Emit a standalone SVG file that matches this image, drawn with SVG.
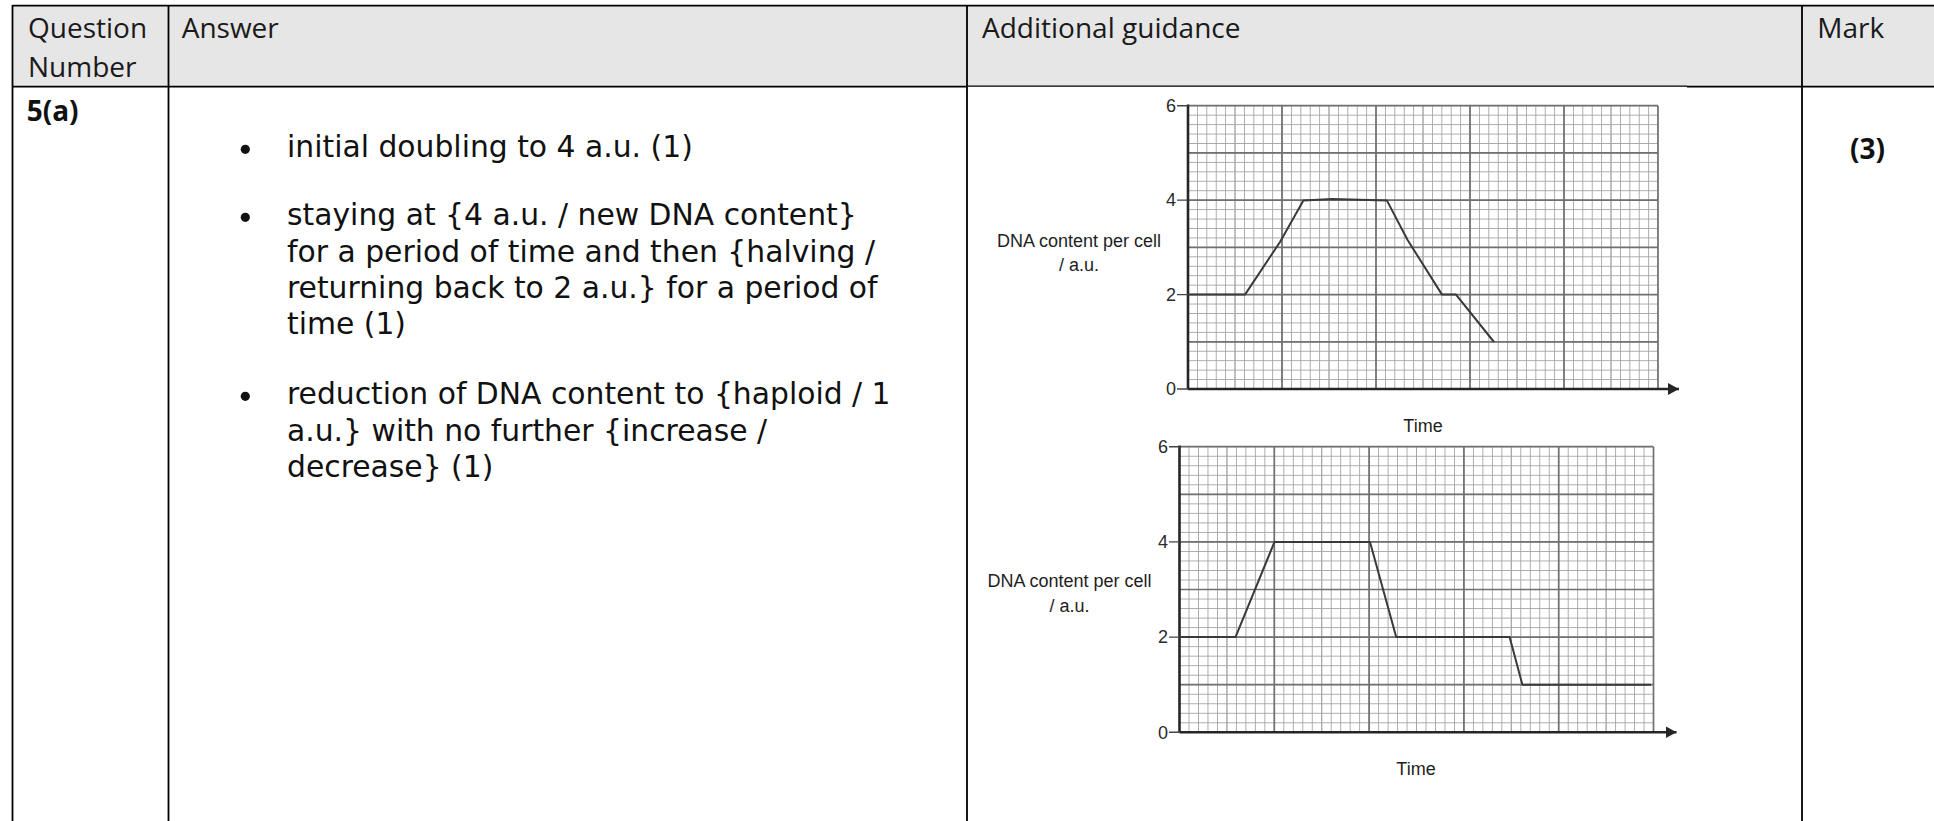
<svg xmlns="http://www.w3.org/2000/svg" width="1934" height="821" viewBox="0 0 1934 821">
<style>
.hdr{font-family:"Open Sans","Liberation Sans",sans-serif;font-size:28px;fill:#1a1a1a}
.bold{font-family:"Open Sans","Liberation Sans",sans-serif;font-size:28px;font-weight:bold;fill:#111}
.body{font-family:"DejaVu Sans","Liberation Sans",sans-serif;font-size:29.8px;fill:#111}
.rule{stroke:#000;stroke-width:1.8;fill:none}
.lbl{font-family:"Liberation Sans","Open Sans",sans-serif;font-size:18px;fill:#1e1e1e;text-anchor:middle}
.num{font-family:"Liberation Sans","Open Sans",sans-serif;font-size:18px;fill:#2a2a2a;text-anchor:end}
.med{stroke:#a6a6a6;stroke-width:1;fill:none}
.maj{stroke:#707070;stroke-width:1.7;fill:none}
.axis{stroke:#262626;stroke-width:2.6;fill:none}
.tick{stroke:#444;stroke-width:1.4;fill:none}
.curve{stroke:#3a3a3a;stroke-width:2;fill:none;stroke-linejoin:round}
</style>
<defs>
<pattern id="m1" patternUnits="userSpaceOnUse" x="1187.55" y="105.25" width="9.4" height="9.443">
<path d="M0.45,0V9.443M0,0.45H9.4" stroke="#a2a2a2" stroke-width="0.9"/>
</pattern>
<pattern id="m2" patternUnits="userSpaceOnUse" x="1179.05" y="446.25" width="9.48" height="9.52">
<path d="M0.45,0V9.52M0,0.45H9.48" stroke="#a2a2a2" stroke-width="0.9"/>
</pattern>
<marker id="arr" markerUnits="userSpaceOnUse" markerWidth="12" markerHeight="14" refX="11" refY="7" orient="auto">
<path d="M0,1 L11,7 L0,13 z" fill="#262626"/>
</marker>
</defs>
<rect width="1934" height="821" fill="#fff"/>
<g id="table">
<rect x="12.5" y="5.7" width="1921.5" height="81" fill="#e6e6e6"/>
<path class="rule" d="M12.5,5.7H1934"/>
<path class="rule" d="M12.5,86.7H967M1687,86.7H1934"/>
<path d="M967,86.2H1687" stroke="#000" stroke-width="1.2"/>
<path class="rule" d="M12.5,5V821M168.5,5V821M967,5V821M1802,5V821"/>
</g>
<g id="header">
<text class="hdr" x="28" y="37.7">Question</text>
<text class="hdr" x="28" y="77.3">Number</text>
<text class="hdr" x="181.7" y="37.7">Answer</text>
<text class="hdr" x="982" y="37.7">Additional guidance</text>
<text class="hdr" x="1817.3" y="37.7">Mark</text>
</g>
<g id="question-number">
<text class="bold" x="26.7" y="120.7">5(a)</text>
</g>
<g id="answer">
<circle cx="245.3" cy="149.3" r="4.6" fill="#111"/>
<circle cx="245.3" cy="217.3" r="4.6" fill="#111"/>
<circle cx="245.3" cy="396.3" r="4.6" fill="#111"/>
<text class="body" x="287" y="157.3">initial doubling to 4 a.u. (1)</text>
<text class="body" x="287" y="225.3">staying at {4 a.u. / new DNA content}</text>
<text class="body" x="287" y="261.6">for a period of time and then {halving /</text>
<text class="body" x="287" y="297.9">returning back to 2 a.u.} for a period of</text>
<text class="body" x="287" y="334.2">time (1)</text>
<text class="body" x="287" y="404.3">reduction of DNA content to {haploid / 1</text>
<text class="body" x="287" y="440.6">a.u.} with no further {increase /</text>
<text class="body" x="287" y="477.2">decrease} (1)</text>
</g>
<g id="mark">
<text class="bold" x="1850" y="159.3">(3)</text>
</g>
<g id="chart1">
<rect x="1188" y="105.7" width="470" height="283.3" fill="url(#m1)"/>
<path class="med" d="M1235,105.7V389M1329,105.7V389M1423,105.7V389M1517,105.7V389M1611,105.7V389"/>
<path class="maj" d="M1282,105.7V389M1376,105.7V389M1470,105.7V389M1564,105.7V389M1658,105.7V389"/>
<path class="maj" d="M1188,105.7H1658M1188,152.9H1658M1188,200.1H1658M1188,247.4H1658M1188,294.6H1658M1188,341.8H1658"/>
<path class="axis" d="M1188,104.5V389"/>
<path class="axis" d="M1188,389H1679" marker-end="url(#arr)"/>
<path class="tick" d="M1177,105.7H1188M1177,200.1H1188M1177,294.6H1188M1177,389H1188"/>
<text class="num" x="1176" y="112">6</text>
<text class="num" x="1176" y="206.4">4</text>
<text class="num" x="1176" y="300.9">2</text>
<text class="num" x="1176" y="395.3">0</text>
<text class="lbl" x="1079" y="246.7">DNA content per cell</text>
<text class="lbl" x="1079" y="270.5">/ a.u.</text>
<text class="lbl" x="1423" y="431.5">Time</text>
<path class="curve" d="M1188,294.6H1245L1280,242L1303.4,200.6L1332,199L1387,200.6L1407.6,240L1442,294.6H1456L1494,342"/>
</g>
<g id="chart2">
<rect x="1179.5" y="446.7" width="474" height="285.6" fill="url(#m2)"/>
<path class="med" d="M1226.9,446.7V732.3M1321.7,446.7V732.3M1416.5,446.7V732.3M1511.3,446.7V732.3M1606.1,446.7V732.3"/>
<path class="maj" d="M1274.3,446.7V732.3M1369.1,446.7V732.3M1463.9,446.7V732.3M1558.7,446.7V732.3M1653.5,446.7V732.3"/>
<path class="maj" d="M1179.5,446.7H1653.5M1179.5,494.3H1653.5M1179.5,541.9H1653.5M1179.5,589.5H1653.5M1179.5,637.1H1653.5M1179.5,684.7H1653.5"/>
<path class="axis" d="M1179.5,445.5V732.3"/>
<path class="axis" d="M1179.5,732.3H1676.5" marker-end="url(#arr)"/>
<path class="tick" d="M1169,446.7H1179.5M1169,541.9H1179.5M1169,637.1H1179.5M1169,732.3H1179.5"/>
<text class="num" x="1168" y="453">6</text>
<text class="num" x="1168" y="548.2">4</text>
<text class="num" x="1168" y="643.4">2</text>
<text class="num" x="1168" y="738.6">0</text>
<text class="lbl" x="1069.5" y="587.3">DNA content per cell</text>
<text class="lbl" x="1069.5" y="611.5">/ a.u.</text>
<text class="lbl" x="1416" y="775">Time</text>
<path class="curve" d="M1179.5,637.1H1235.5L1274.5,541.9H1370L1396.2,637.1H1509.6L1522.4,684.7H1651"/>
</g>
</svg>
